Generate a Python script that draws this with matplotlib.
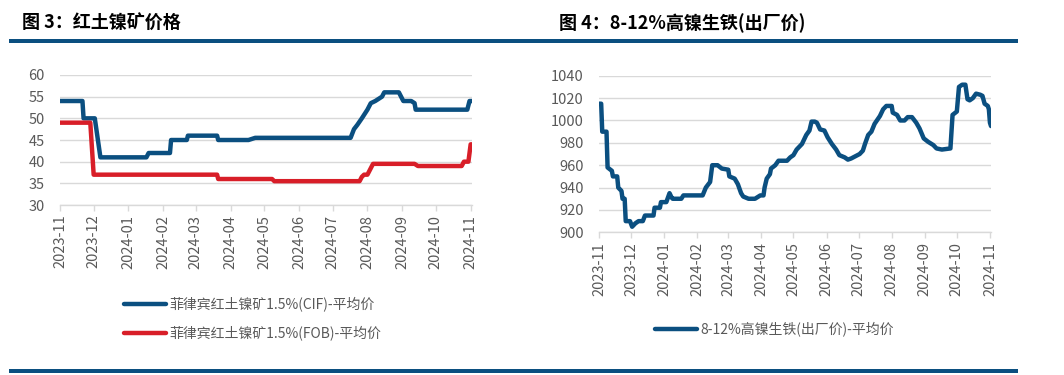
import matplotlib
matplotlib.use("Agg")
import matplotlib.pyplot as plt
import matplotlib.dates as mdates
from matplotlib.patches import Rectangle
import pandas as pd

plt.rcParams['font.family'] = ['Noto Sans CJK SC', 'DejaVu Sans']

# ---- data: 菲律宾红土镍矿1.5% ----
cif_dates = ['2023-11-01', '2023-11-21', '2023-11-22', '2023-12-02', '2023-12-07',
             '2024-01-17', '2024-01-19', '2024-02-07', '2024-02-08', '2024-02-22',
             '2024-02-23', '2024-03-20', '2024-03-21', '2024-04-17', '2024-04-23',
             '2024-07-17', '2024-07-20', '2024-07-23', '2024-07-27', '2024-08-01',
             '2024-08-04', '2024-08-08', '2024-08-11', '2024-08-14', '2024-08-16',
             '2024-08-29', '2024-09-02', '2024-09-09', '2024-09-12', '2024-09-13',
             '2024-10-29', '2024-10-31', '2024-11-02']
cif_vals = [54, 54, 50, 50, 41,
            41, 42, 42, 45, 45,
            46, 46, 45, 45, 45.5,
            45.5, 47.5, 48.5, 50, 52,
            53.5, 54, 54.5, 55, 56,
            56, 54, 54, 53.5, 52,
            52, 54, 54]

fob_dates = ['2023-11-01', '2023-11-28', '2023-12-01', '2024-03-20', '2024-03-21',
             '2024-05-08', '2024-05-10', '2024-07-25', '2024-07-27', '2024-07-29',
             '2024-08-01', '2024-08-04', '2024-08-06', '2024-09-12', '2024-09-15',
             '2024-10-24', '2024-10-26', '2024-10-30', '2024-11-01', '2024-11-02']
fob_vals = [49, 49, 37, 37, 36,
            36, 35.5, 35.5, 36.5, 37,
            37, 38.5, 39.5, 39.5, 39,
            39, 40, 40, 44, 44]

# ---- data: 8-12%高镍生铁(出厂价) ----
npi_dates = ['2023-11-01', '2023-11-03', '2023-11-04', '2023-11-08', '2023-11-09',
             '2023-11-13', '2023-11-14', '2023-11-18', '2023-11-19', '2023-11-22',
             '2023-11-23', '2023-11-25', '2023-11-26', '2023-11-30', '2023-12-02',
             '2023-12-05', '2023-12-08', '2023-12-12', '2023-12-14', '2023-12-22',
             '2023-12-23', '2023-12-28', '2023-12-29', '2024-01-03', '2024-01-06',
             '2024-01-08', '2024-01-09', '2024-01-17', '2024-01-19', '2024-02-06',
             '2024-02-09', '2024-02-13', '2024-02-15', '2024-02-20', '2024-02-24',
             '2024-03-01', '2024-03-02', '2024-03-07', '2024-03-10', '2024-03-13',
             '2024-03-15', '2024-03-20', '2024-03-26', '2024-03-31', '2024-04-03',
             '2024-04-04', '2024-04-06', '2024-04-09', '2024-04-10', '2024-04-14',
             '2024-04-17', '2024-04-25', '2024-04-28', '2024-05-01', '2024-05-04',
             '2024-05-09', '2024-05-13', '2024-05-16', '2024-05-18', '2024-05-21',
             '2024-05-23', '2024-05-26', '2024-05-30', '2024-06-02', '2024-06-06',
             '2024-06-10', '2024-06-13', '2024-06-18', '2024-06-21', '2024-06-24',
             '2024-06-28', '2024-07-02', '2024-07-05', '2024-07-07', '2024-07-10',
             '2024-07-13', '2024-07-16', '2024-07-21', '2024-07-24', '2024-07-27',
             '2024-08-01', '2024-08-02', '2024-08-06', '2024-08-09', '2024-08-13',
             '2024-08-16', '2024-08-20', '2024-08-24', '2024-08-27', '2024-08-31',
             '2024-09-04', '2024-09-09', '2024-09-12', '2024-09-17', '2024-09-25',
             '2024-09-27', '2024-10-01', '2024-10-03', '2024-10-06', '2024-10-09',
             '2024-10-11', '2024-10-13', '2024-10-16', '2024-10-19', '2024-10-23',
             '2024-10-25', '2024-10-27', '2024-10-30', '2024-10-31', '2024-11-01',
             '2024-11-02']
npi_vals = [1015, 1015, 990, 990, 958,
            955, 950, 950, 940, 937,
            930, 930, 910, 910, 905,
            908, 910, 910, 915, 915,
            922, 922, 927, 927, 935,
            931, 930, 930, 933, 933,
            940, 945, 960, 960, 957,
            956, 950, 948, 943, 935,
            932, 930, 930, 933, 933,
            940, 948, 952, 957, 960,
            964, 964, 967, 969, 974,
            979, 987, 991, 999, 999,
            998, 992, 991, 985, 979,
            974, 969, 967, 965, 966,
            968, 970, 973, 979, 987,
            990, 997, 1004, 1010, 1013,
            1013, 1007, 1005, 1000, 1000,
            1003, 1003, 998, 993, 984,
            981, 978, 975, 974, 975,
            1005, 1008, 1030, 1032, 1032,
            1019, 1018, 1020, 1024, 1023,
            1022, 1015, 1013, 1010, 998,
            995]

BLUE = '#0b4f80'
RED = '#d81e28'
GRAY = '#595959'
GRID = '#d9d9d9'

fig = plt.figure(figsize=(10.64, 3.75), dpi=100)


def style_axis(ax, ylim, yticks, xstart, xend):
    ax.set_ylim(*ylim)
    ax.set_yticks(yticks)
    ax.set_xlim(pd.Timestamp(xstart), pd.Timestamp(xend))
    ax.xaxis.set_major_locator(mdates.MonthLocator())
    ax.xaxis.set_major_formatter(mdates.DateFormatter('%Y-%m'))
    ax.grid(axis='y', color=GRID, linewidth=1)
    ax.set_axisbelow(True)
    for s in ['top', 'right', 'left']:
        ax.spines[s].set_visible(False)
    ax.spines['bottom'].set_color(GRID)
    ax.spines['bottom'].set_linewidth(1)
    ax.tick_params(axis='y', length=0, pad=11, labelsize=10.5, labelcolor=GRAY)
    ax.tick_params(axis='x', length=4, color=GRID, width=1, pad=3,
                   labelsize=10.5, labelcolor=GRAY, labelrotation=90)


# left chart
ax1 = fig.add_axes([0.0564, 0.4533, 0.387, 0.3467])
ax1.plot(pd.to_datetime(cif_dates), cif_vals, color=BLUE, lw=3.2,
         solid_joinstyle='round', solid_capstyle='round',
         label='菲律宾红土镍矿1.5%(CIF)-平均价')
ax1.plot(pd.to_datetime(fob_dates), fob_vals, color=RED, lw=3.2,
         solid_joinstyle='round', solid_capstyle='round',
         label='菲律宾红土镍矿1.5%(FOB)-平均价')
style_axis(ax1, (30, 60), range(30, 61, 5), '2023-11-01', '2024-11-02')
ax1.legend(loc='center left', bbox_to_anchor=(0.1165, 0.1507),
           bbox_transform=fig.transFigure, frameon=False, fontsize=10,
           labelcolor=GRAY, handlelength=3.0, handletextpad=0.3,
           labelspacing=1.0, borderpad=0, borderaxespad=0)

# right chart
ax2 = fig.add_axes([0.563, 0.3805, 0.3684, 0.4175])
ax2.plot(pd.to_datetime(npi_dates), npi_vals, color=BLUE, lw=3.2,
         solid_joinstyle='round', solid_capstyle='round',
         label='8-12%高镍生铁(出厂价)-平均价')
style_axis(ax2, (900, 1040), range(900, 1041, 20), '2023-11-01', '2024-11-02')
ax2.legend(loc='center left', bbox_to_anchor=(0.6156, 0.1227),
           bbox_transform=fig.transFigure, frameon=False, fontsize=10,
           labelcolor=GRAY, handlelength=3.0, handletextpad=0.3,
           borderpad=0, borderaxespad=0)

# headers and separator bars
fig.text(22 / 1064, 1 - 23 / 375, '图 3：红土镍矿价格', fontsize=13,
         fontweight='bold', va='center', ha='left', color='black')
fig.text(559 / 1064, 1 - 23 / 375, '图 4：8-12%高镍生铁(出厂价)', fontsize=13,
         fontweight='bold', va='center', ha='left', color='black')

W, H = 1064, 375
for x0, x1 in [(9, 530), (530, 1018)]:
    for ytop in [39, 369]:
        fig.add_artist(Rectangle((x0 / W, 1 - (ytop + 4) / H), (x1 - x0) / W, 4 / H,
                                 transform=fig.transFigure, color=BLUE, lw=0))

fig.savefig('out.png', dpi=100)
